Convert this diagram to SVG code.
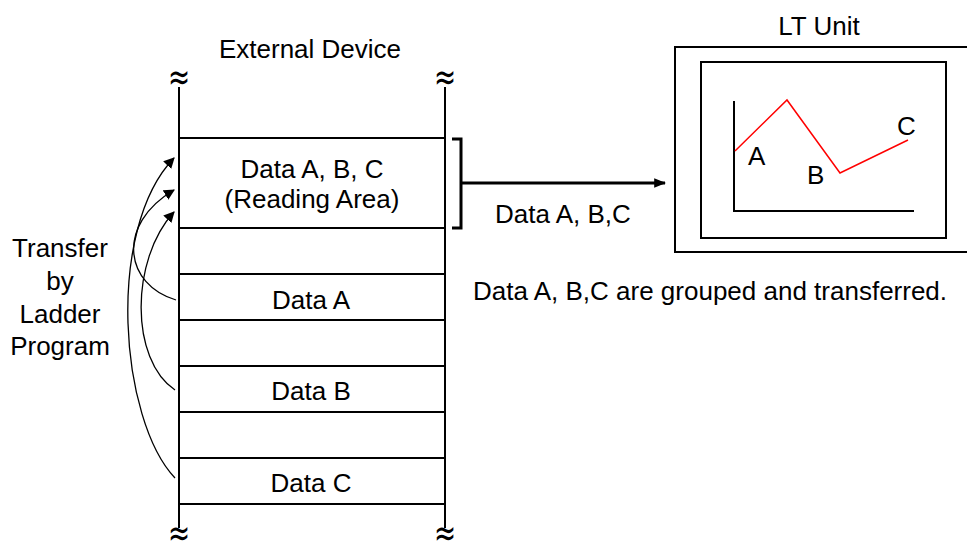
<svg xmlns="http://www.w3.org/2000/svg" width="967" height="544" viewBox="0 0 967 544">
<style>
text{font-family:"Liberation Sans",Arial,sans-serif;font-size:26px;fill:#000}
.c{text-anchor:middle}
.ap{font-family:"DejaVu Sans",sans-serif;font-size:24px}
.ln{stroke:#000;stroke-width:2;fill:none}
.cv{stroke:#000;stroke-width:1.3;fill:none;marker-end:url(#ah)}
</style>
<defs>
<marker id="ah" viewBox="0 0 10 10" refX="9" refY="5" markerWidth="11" markerHeight="11" markerUnits="userSpaceOnUse" orient="auto">
<path d="M0,0 L10,5 L0,10 z" fill="#000"/>
</marker>
<marker id="ah2" viewBox="0 0 10 10" refX="9" refY="5" markerWidth="12" markerHeight="12" markerUnits="userSpaceOnUse" orient="auto">
<path d="M0,1 L10,5 L0,9 z" fill="#000"/>
</marker>
</defs>
<rect width="967" height="544" fill="#fff"/>
<g id="external-device">
<text class="c" x="310" y="58">External Device</text>
<text class="c ap" transform="translate(179,90) scale(1.1,1.6)">≈</text>
<text class="c ap" transform="translate(445,90) scale(1.1,1.6)">≈</text>
<text class="c ap" transform="translate(179,546) scale(1.1,1.6)">≈</text>
<text class="c ap" transform="translate(445,546) scale(1.1,1.6)">≈</text>
<path class="ln" d="M179,87 V528 M445,87 V528"/>
<path class="ln" d="M179,138 H445 M179,228 H445 M179,274 H445 M179,320 H445 M179,366 H445 M179,412 H445 M179,458 H445 M179,504 H445"/>
</g>
<g id="reading-area">
<text class="c" x="312" y="178">Data A, B, C</text>
<text class="c" x="312" y="208">(Reading Area)</text>
</g>
<g id="data-a"><text class="c" x="311" y="309">Data A</text></g>
<g id="data-b"><text class="c" x="311" y="400">Data B</text></g>
<g id="data-c"><text class="c" x="311" y="492">Data C</text></g>
<g id="transfer-label">
<text class="c" x="60" y="257">Transfer</text>
<text class="c" x="60" y="290">by</text>
<text class="c" x="60" y="323">Ladder</text>
<text class="c" x="60" y="355">Program</text>
</g>
<g id="lt-unit">
<text class="c" x="819" y="35">LT Unit</text>
<rect x="675" y="47" width="310" height="205" fill="none" stroke="#000" stroke-width="2"/>
<rect x="701" y="62" width="245" height="176" fill="none" stroke="#000" stroke-width="2"/>
<path class="ln" d="M734,101 V211 H914"/>
<polyline points="735,151 787,100 840,173 908,140" fill="none" stroke="#f00" stroke-width="1.5"/>
<text x="748" y="165">A</text>
<text x="807" y="184">B</text>
<text x="897" y="135">C</text>
</g>
<g id="connectors">
<path class="cv" d="M176,300 C125,285 115,225 174,190"/>
<path class="cv" d="M175,390 C130,360 130,260 174,212"/>
<path class="cv" d="M175,478 C120,420 105,230 174,158"/>
<path d="M452,139 H461 V228 H452" fill="none" stroke="#000" stroke-width="3"/>
<path d="M461,183 H665" fill="none" stroke="#000" stroke-width="3" marker-end="url(#ah2)"/>
</g>
<text x="495" y="223">Data A, B,C</text>
<text x="473" y="300">Data A, B,C are grouped and transferred.</text>
</svg>
